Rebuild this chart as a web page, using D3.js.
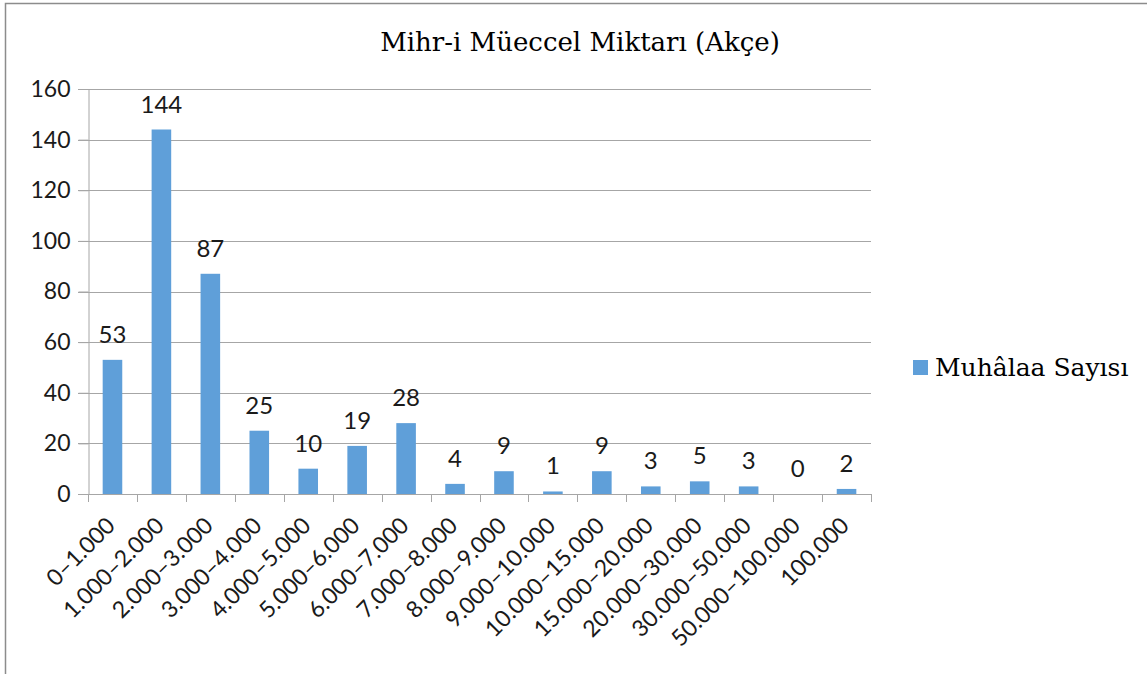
<!DOCTYPE html>
<html>
<head>
<meta charset="utf-8">
<script src="https://cdn.jsdelivr.net/npm/d3@7"></script>
<style>
  html, body { margin: 0; padding: 0; background: #fff; }
  svg { display: block; }
</style>
</head>
<body>
<div id="chart"></div>
<script>
// categories (mihr-i müeccel ranges, akçe)
const categories = [
    "0–1.000", "1.000–2.000", "2.000–3.000", "3.000–4.000", "4.000–5.000",
    "5.000–6.000", "6.000–7.000", "7.000–8.000", "8.000–9.000", "9.000–10.000",
    "10.000–15.000", "15.000–20.000", "20.000–30.000", "30.000–50.000",
    "50.000–100.000", "100.000"
];
// number of cases per range
const counts = [53, 144, 87, 25, 10, 19, 28, 4, 9, 1, 9, 3, 5, 3, 0, 2];
const yTicks = [0, 20, 40, 60, 80, 100, 120, 140, 160];
const seriesName = "Muhâlaa Sayısı";
const title = "Mihr-i Müeccel Miktarı (Akçe)";

const width = 1147, height = 674;
const margin = { top: 89, right: 276, bottom: 180, left: 88 };
const barColor = "#5f9fd9";
const gridColor = "#a6a6a6";
const sansFont = "Lato, 'Open Sans', sans-serif";
const serifFont = "'DejaVu Serif', serif";

const svg = d3.select("#chart").append("svg")
    .attr("width", width)
    .attr("height", height);

// chart frame
svg.append("path")
    .attr("d", `M5.5,${height} V3.5 H${width}`)
    .attr("fill", "none")
    .attr("stroke", "#8c8c8c")
    .attr("stroke-width", 1.5);

const xScale = d3.scaleBand()
    .domain(categories)
    .range([margin.left, width - margin.right])
    .paddingInner(0.6)
    .paddingOuter(0.3);

const yScale = d3.scaleLinear()
    .domain([0, 160])
    .range([height - margin.bottom, margin.top]);

// horizontal grid
svg.append("g")
    .selectAll("line")
    .data(yTicks)
    .enter()
    .append("line")
    .attr("x1", margin.left - 10)
    .attr("x2", width - margin.right)
    .attr("y1", d => Math.round(yScale(d)) + 0.5)
    .attr("y2", d => Math.round(yScale(d)) + 0.5)
    .attr("stroke", gridColor)
    .attr("stroke-width", 1);

// y axis
const yAxis = svg.append("g")
    .attr("transform", `translate(${margin.left + 0.5},0)`)
    .call(d3.axisLeft(yScale).tickValues(yTicks).tickSize(10).tickPadding(8));
yAxis.selectAll("path, line").attr("stroke", gridColor);
yAxis.selectAll("text")
    .attr("fill", "#1a1a1a")
    .attr("font-family", sansFont)
    .attr("font-size", 23);

// x axis with ticks between bands
const edges = d3.range(categories.length + 1).map(i => margin.left + i * (width - margin.left - margin.right) / categories.length);
const xg = svg.append("g");
xg.append("line")
    .attr("x1", margin.left)
    .attr("x2", width - margin.right)
    .attr("y1", Math.round(yScale(0)) + 0.5)
    .attr("y2", Math.round(yScale(0)) + 0.5)
    .attr("stroke", gridColor);
xg.selectAll("line.tick")
    .data(edges)
    .enter()
    .append("line")
    .attr("class", "tick")
    .attr("x1", d => Math.round(d) + 0.5)
    .attr("x2", d => Math.round(d) + 0.5)
    .attr("y1", Math.round(yScale(0)))
    .attr("y2", Math.round(yScale(0)) + 8)
    .attr("stroke", gridColor);

xg.selectAll("text")
    .data(categories)
    .enter()
    .append("text")
    .attr("transform", d => `translate(${xScale(d) + xScale.bandwidth() / 2 + 4},${yScale(0) + 33}) rotate(-45)`)
    .attr("text-anchor", "end")
    .attr("fill", "#1a1a1a")
    .attr("font-family", sansFont)
    .attr("font-size", 23)
    .text(d => d);

// bars
svg.append("g")
    .selectAll("rect")
    .data(counts)
    .enter()
    .append("rect")
    .attr("x", (d, i) => xScale(categories[i]))
    .attr("y", d => yScale(d))
    .attr("width", xScale.bandwidth())
    .attr("height", d => yScale(0) - yScale(d))
    .attr("fill", barColor);

// value labels
svg.append("g")
    .selectAll("text")
    .data(counts)
    .enter()
    .append("text")
    .attr("x", (d, i) => xScale(categories[i]) + xScale.bandwidth() / 2)
    .attr("y", d => yScale(d) - 17)
    .attr("text-anchor", "middle")
    .attr("fill", "#1a1a1a")
    .attr("font-family", sansFont)
    .attr("font-size", 24)
    .text(d => d);

// title
svg.append("text")
    .attr("x", 580)
    .attr("y", 51)
    .attr("text-anchor", "middle")
    .attr("fill", "#000")
    .attr("font-family", serifFont)
    .attr("font-size", 26)
    .text(title);

// legend
const legend = svg.append("g").attr("transform", "translate(913,360)");
legend.append("rect")
    .attr("width", 15)
    .attr("height", 15)
    .attr("fill", barColor);
legend.append("text")
    .attr("x", 22)
    .attr("y", 16)
    .attr("fill", "#000")
    .attr("font-family", serifFont)
    .attr("font-size", 25)
    .text(seriesName);
</script>
</body>
</html>
